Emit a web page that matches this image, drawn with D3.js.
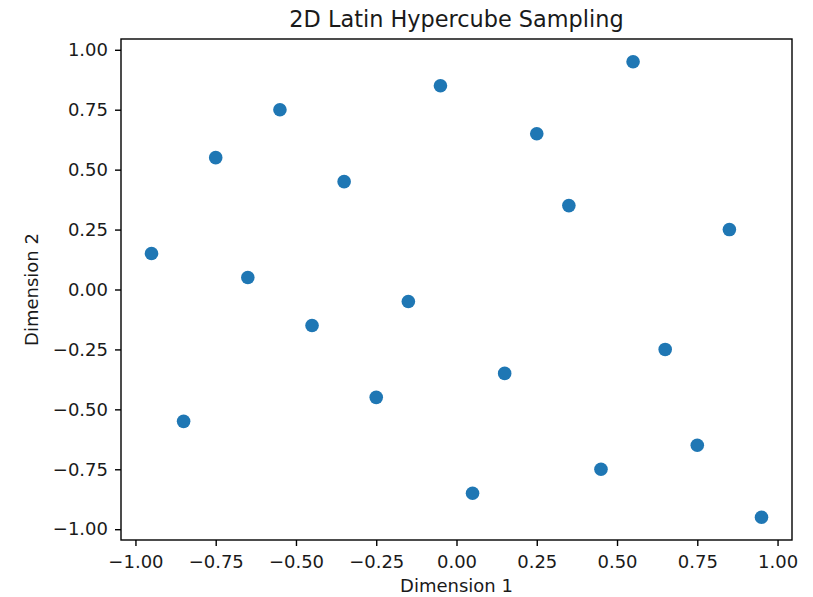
<!DOCTYPE html>
<html>
<head>
<meta charset="utf-8">
<script src="https://cdn.jsdelivr.net/npm/d3@7"></script>
<style>
  body { margin: 0; background: #fff; }
  svg { font-family: "DejaVu Sans", sans-serif; }
  .tick text { font-size: 18px; fill: #1a1a1a; }
  .label { font-size: 18px; fill: #1a1a1a; }
  .title { font-size: 22.4px; fill: #1a1a1a; }
</style>
</head>
<body>
<svg id="chart" width="813" height="597"></svg>
<script>
const xs = [-0.95, -0.85, -0.75, -0.65, -0.55, -0.45, -0.35, -0.25, -0.15, -0.05,
             0.05,  0.15,  0.25,  0.35,  0.45,  0.55,  0.65,  0.75,  0.85,  0.95];
const ys = [ 0.15, -0.55,  0.55,  0.05,  0.75, -0.15,  0.45, -0.45, -0.05,  0.85,
            -0.85, -0.35,  0.65,  0.35, -0.75,  0.95, -0.25, -0.65,  0.25, -0.95];
const xTicks = [-1, -0.75, -0.5, -0.25, 0, 0.25, 0.5, 0.75, 1];
const yTicks = [-1, -0.75, -0.5, -0.25, 0, 0.25, 0.5, 0.75, 1];

const points = xs.map((x, i) => ({ x: x, y: ys[i] }));

const svg = d3.select('#chart');

const plotLeft = 121, plotRight = 792, plotTop = 39, plotBottom = 540;

// matplotlib style 5% margins
const pad = 0.05 * (d3.max(xs) - d3.min(xs));
const padY = 0.05 * (d3.max(ys) - d3.min(ys));

const xScale = d3.scaleLinear()
  .domain([d3.min(xs) - pad, d3.max(xs) + pad])
  .range([plotLeft, plotRight]);

const yScale = d3.scaleLinear()
  .domain([d3.min(ys) - padY, d3.max(ys) + padY])
  .range([plotBottom, plotTop]);

const fmt = d3.format('.2f');

const xAxis = svg.append('g')
  .attr('transform', `translate(0, ${plotBottom})`)
  .call(d3.axisBottom(xScale).tickValues(xTicks).tickFormat(fmt).tickSize(6).tickPadding(6));

const yAxis = svg.append('g')
  .attr('transform', `translate(${plotLeft}, 0)`)
  .call(d3.axisLeft(yScale).tickValues(yTicks).tickFormat(fmt).tickSize(6).tickPadding(7));

[xAxis, yAxis].forEach(a => {
  a.select('.domain').remove();
  a.selectAll('.tick line').attr('stroke', '#000').attr('stroke-width', 1.4);
  a.attr('font-family', null).attr('font-size', null);
});
xAxis.selectAll('.tick text').attr('y', 28).attr('dy', null);

// frame
svg.append('rect')
  .attr('x', plotLeft)
  .attr('y', plotTop)
  .attr('width', plotRight - plotLeft)
  .attr('height', plotBottom - plotTop)
  .attr('fill', 'none')
  .attr('stroke', '#000')
  .attr('stroke-width', 1.4);

svg.append('g')
  .selectAll('circle')
  .data(points)
  .enter()
  .append('circle')
  .attr('cx', d => xScale(d.x))
  .attr('cy', d => yScale(d.y))
  .attr('r', 6.8)
  .attr('fill', '#1f77b4');

svg.append('text')
  .attr('class', 'title')
  .attr('x', (plotLeft + plotRight) / 2)
  .attr('y', 27)
  .attr('text-anchor', 'middle')
  .text('2D Latin Hypercube Sampling');

svg.append('text')
  .attr('class', 'label')
  .attr('x', (plotLeft + plotRight) / 2)
  .attr('y', 592)
  .attr('text-anchor', 'middle')
  .text('Dimension 1');

svg.append('text')
  .attr('class', 'label')
  .attr('transform', `translate(38, ${(plotTop + plotBottom) / 2}) rotate(-90)`)
  .attr('text-anchor', 'middle')
  .text('Dimension 2');
</script>
</body>
</html>
